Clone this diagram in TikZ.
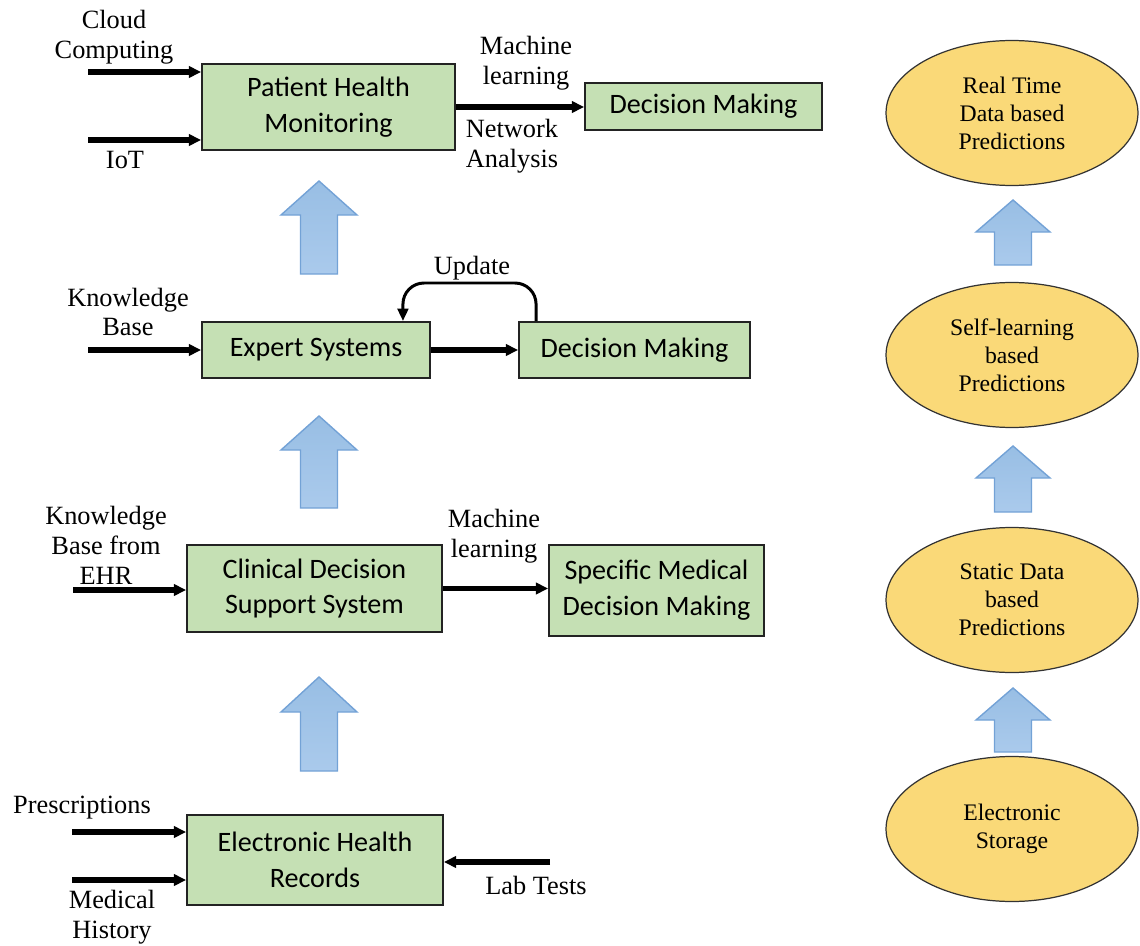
\documentclass[tikz,border=0pt]{standalone}
\usepackage{fontspec}
\setmainfont{Liberation Serif}
\newfontfamily\lblserif{Liberation Serif}
\newfontfamily\boxfont{Carlito}
\usetikzlibrary{arrows.meta,shapes.geometric,calc}
\definecolor{boxgreen}{RGB}{197,224,180}
\definecolor{boxedge}{RGB}{35,35,35}
\definecolor{ellgold}{RGB}{250,217,120}
\definecolor{arrblue}{RGB}{152,190,228}
\definecolor{arrbluelight}{RGB}{170,202,236}
\definecolor{arredge}{RGB}{115,162,214}
\newcommand\upblock[5]{% cx, top, headbase, bottom, headhalf
  \draw[blockarrow] (#1,#2) -- ({#1+#5},#3) -- ({#1+18.5},#3) -- ({#1+18.5},#4)
    -- ({#1-18.5},#4) -- ({#1-18.5},#3) -- ({#1-#5},#3) -- cycle;}
\begin{document}
\begin{tikzpicture}[x=0.02cm,y=-0.02cm,
  box/.style={draw=boxedge,line width=1.1pt,fill=boxgreen,align=center,
    font=\boxfont\fontsize{16}{20.4}\selectfont,inner sep=0pt},
  ell/.style={ellipse,draw=black!80,line width=0.7pt,fill=ellgold,align=center,
    font=\lblserif\fontsize{13.5}{16}\selectfont,inner sep=0pt,
    minimum width=5.04cm,minimum height=2.9cm},
  lbl/.style={align=center,font=\lblserif\fontsize{15}{17}\selectfont,inner sep=0pt},
  flow/.style={line width=3.3pt,-{Triangle[length=7pt,width=6.5pt]}},
  updarrow/.style={line width=1.7pt,rounded corners=12pt,-{Triangle[length=7pt,width=6pt]}},
  blockarrow/.style={top color=arrblue,bottom color=arrbluelight,draw=arredge,line width=0.8pt,line join=miter}]
\useasboundingbox (0,0) rectangle (1140,946);

% ---- left column boxes
\node[box,minimum width=5.06cm,minimum height=1.72cm] (phm) at (328.5,107) {Patient Health\\Monitoring};
\node[box,minimum width=4.74cm,minimum height=0.94cm] (dm1) at (703.5,106.5) {Decision Making};
\node[box,minimum width=4.56cm,minimum height=1.12cm] (es) at (316,350) {Expert Systems};
\node[box,minimum width=4.62cm,minimum height=1.12cm] (dm2) at (634.5,350) {Decision Making};
\node[box,minimum width=5.10cm,minimum height=1.74cm] (cdss) at (314.5,588.5) {Clinical Decision\\Support System};
\node[box,minimum width=4.30cm,minimum height=1.82cm] (smdm) at (656.5,590.5) {Specific Medical\\Decision Making};
\node[box,minimum width=5.12cm,minimum height=1.80cm] (ehr) at (315,860) {Electronic Health\\Records};

% ---- labels
\node[lbl] (lcloud) at (114,37) {Cloud\\Computing};
\node[lbl] (liot) at (125,160) {IoT};
\node[lbl] (lml1) at (526,63) {Machine\\learning};
\node[lbl] (lna) at (512,146) {Network\\Analysis};
\node[lbl] (lkb) at (128,312) {Knowledge\\Base};
\node[lbl] (lupd) at (472,268) {Update};
\node[lbl] (lkbehr) at (106,545) {Knowledge\\Base from\\EHR};
\node[lbl] (lml2) at (494,536) {Machine\\learning};
\node[lbl] (lpres) at (82,808) {Prescriptions};
\node[lbl] (lmh) at (112,917) {Medical\\History};
\node[lbl] (llab) at (536,885) {Lab Tests};

% ---- free ends of input connectors
\coordinate (incloud) at (88,72);
\coordinate (iniot) at (88,140);
\coordinate (inkb) at (88,350);
\coordinate (inkbehr) at (73,590);
\coordinate (inpres) at (72,832);
\coordinate (inmh) at (72,880);
\coordinate (inlab) at (550,862);
\coordinate (updtop) at (470,283);

% ---- connectors
\draw[flow] (incloud) -- (incloud -| phm.west);
\draw[flow] (iniot) -- (iniot -| phm.west);
\draw[flow] (phm.east) -- (phm.east -| dm1.west);
\draw[flow] (inkb) -- (inkb -| es.west);
\draw[flow] (es.east) -- (es.east -| dm2.west);
\coordinate (updA) at ($(dm2.north west)+(18,0)$);
\coordinate (updB) at ($(es.north east)+(-28,0)$);
\draw[updarrow] (updA) -- (updA |- updtop) -- (updB |- updtop) -- (updB);
\draw[flow] (inkbehr) -- (inkbehr -| cdss.west);
\draw[flow] (cdss.east) -- (cdss.east -| smdm.west);
\draw[flow] (inpres) -- (inpres -| ehr.west);
\draw[flow] (inmh) -- (inmh -| ehr.west);
\draw[flow] (inlab) -- (inlab -| ehr.east);

% ---- block arrows (left)
\upblock{319}{181}{215}{274}{38}
\upblock{319}{416}{450}{508}{38}
\upblock{319}{677}{712}{771}{38}

% ---- right column
\node[ell] (e1) at (1012,113) {Real Time\\Data based\\Predictions};
\node[ell] (e2) at (1012,355) {Self-learning\\based\\Predictions};
\node[ell] (e3) at (1012,600) {Static Data\\based\\Predictions};
\node[ell] (e4) at (1012,829) {Electronic\\Storage};
\upblock{1013}{200}{232}{265}{37}
\upblock{1013}{446}{478}{512}{37}
\upblock{1013}{688}{720}{752}{37}
\end{tikzpicture}
\end{document}
